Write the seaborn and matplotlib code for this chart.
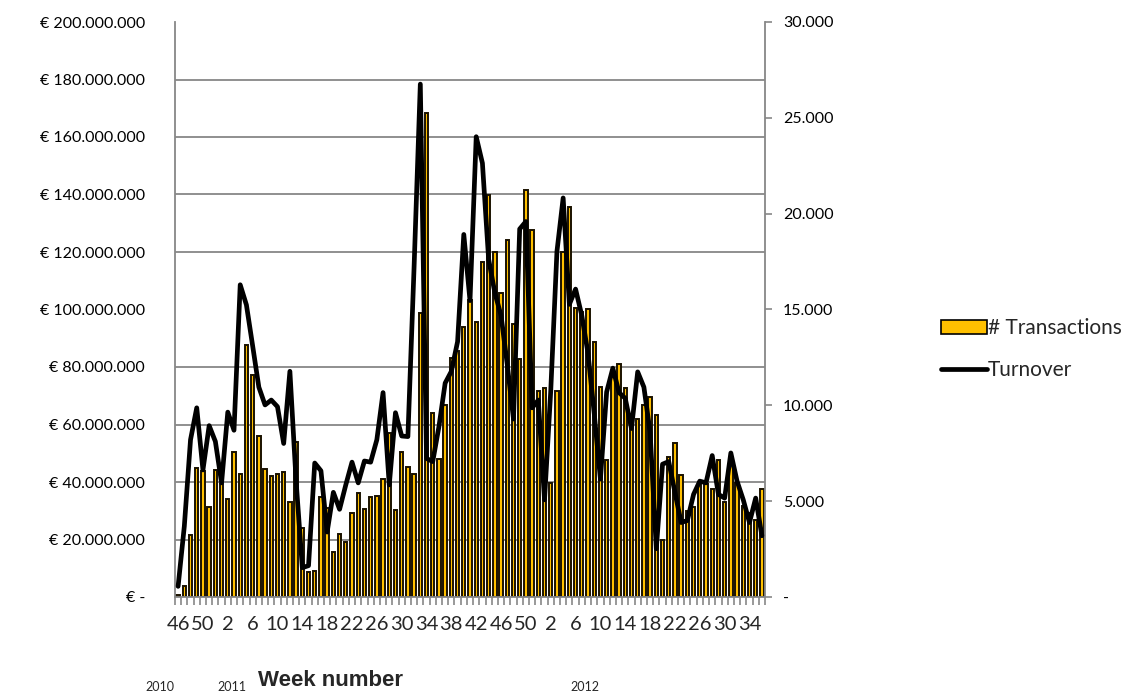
import numpy as np
import pandas as pd
import matplotlib
matplotlib.use("Agg")
import matplotlib.pyplot as plt
import seaborn as sns
from matplotlib.ticker import MultipleLocator, FuncFormatter
from matplotlib.lines import Line2D
from matplotlib.patches import Patch

# weeks 46/2010 .. 36/2012
years = [2010] * 7 + [2011] * 52 + [2012] * 36
weeks = list(range(46, 53)) + list(range(1, 53)) + list(range(1, 37))

transactions = [
    100, 600, 3250, 6730, 6550, 4700, 6630, 5900, 5100, 7570,
    6410, 13130, 11600, 8420, 6680, 6320, 6430, 6530, 4980, 8100,
    3620, 1320, 1370, 5240, 4650, 2350, 3300, 2880, 4400, 5450,
    4600, 5240, 5280, 6180, 8580, 4560, 7570, 6780, 6430, 14840,
    25240, 9610, 7200, 10000, 12460, 12820, 14100, 15470, 14370, 17500,
    20960, 18020, 15860, 18610, 14250, 12430, 21240, 19160, 10760, 10890,
    5950, 10760, 17980, 20340, 15080, 14880, 15040, 13310, 10950, 7170,
    11540, 12170, 10910, 8800, 9300, 10000, 10420, 9490, 2990, 7290,
    8040, 6380, 4480, 4690, 5980, 5900, 5650, 7140, 4960, 7250,
    5930, 4730, 4400, 4000, 5650,
]

# turnover in million euro
turnover_m = [
    3.7, 24.6, 54.7, 65.8, 44.2, 59.6, 54.1, 39.7, 64.3, 58.0,
    108.6, 101.6, 87.4, 73.0, 66.8, 68.5, 66.2, 53.4, 78.5, 40.3,
    10.2, 10.9, 46.6, 43.9, 22.6, 36.4, 30.5, 39.0, 46.9, 39.7,
    47.3, 46.9, 54.7, 71.1, 39.0, 64.1, 56.0, 55.8, 115.0, 178.4,
    48.2, 47.1, 59.3, 74.4, 78.5, 88.8, 126.1, 103.1, 160.1, 150.9,
    117.5, 105.8, 97.9, 80.9, 61.9, 128.0, 130.6, 65.8, 68.5, 33.8,
    71.7, 120.2, 138.8, 101.8, 107.1, 97.9, 84.8, 63.9, 41.0, 71.3,
    79.6, 71.1, 69.1, 58.6, 78.3, 73.0, 57.3, 16.8, 46.2, 47.1,
    36.4, 25.9, 26.6, 35.7, 40.3, 39.7, 49.2, 35.7, 34.4, 50.1,
    40.3, 33.8, 25.9, 34.4, 21.3,
]

df = pd.DataFrame({
    "idx": range(len(weeks)),
    "year": years,
    "week": weeks,
    "transactions": transactions,
    "turnover": np.array(turnover_m) * 1e6,
})

sns.set_theme(style="white")
plt.rcParams["font.family"] = ["Lato", "DejaVu Sans"]

GREY = "#878787"
GOLD = "#FFC000"
W, H = 1131, 693

fig = plt.figure(figsize=(W / 100, H / 100), dpi=100)
ax = fig.add_axes([175 / W, 1 - 597 / H, 590 / W, 575 / H])

# bars: # transactions (right axis scale)
sns.barplot(data=df, x="idx", y="transactions", ax=ax, color=GOLD,
            saturation=1, width=0.55, edgecolor="#1a1200", linewidth=1.4)
ax.set_ylim(0, 30000)
ax.set_xlim(-0.5, len(df) - 0.5)

# line: turnover (left axis scale)
ax2 = ax.twinx()
sns.lineplot(data=df, x="idx", y="turnover", ax=ax2, color="black",
             linewidth=3.4)
ax2.set_ylim(0, 200e6)
ax2.set_xlim(-0.5, len(df) - 0.5)

# axis sides: euro on left, count on right
ax.yaxis.tick_right()
ax2.yaxis.tick_left()

ax.set_xlabel("")
ax.set_ylabel("")
ax2.set_ylabel("")

# gridlines at every 20M (= 3000 transactions)
ax.yaxis.set_major_locator(MultipleLocator(5000))
ax.yaxis.set_minor_locator(MultipleLocator(3000))
ax.grid(which="minor", axis="y", color=GREY, linewidth=1.3)
ax.set_axisbelow(True)

ax.yaxis.set_major_formatter(FuncFormatter(
    lambda v, p: "-" if v == 0 else f"{v:,.0f}".replace(",", ".")))
ax.tick_params(axis="y", which="major", right=True, length=5, width=1.2,
               color=GREY, labelsize=11.5, pad=8, labelcolor="black")
ax.tick_params(axis="y", which="minor", length=0)

ax2.yaxis.set_major_locator(MultipleLocator(20e6))
ax2.yaxis.set_major_formatter(FuncFormatter(
    lambda v, p: "€ -" if v == 0 else "€ " + f"{v:,.0f}".replace(",", ".")))
ax2.tick_params(axis="y", left=True, length=0, labelsize=11.5, pad=21.5,
                labelcolor="black")

# x axis: label every 4th week, tick marks between categories
ax.set_xticks(range(0, len(df), 4))
ax.set_xticklabels([str(w) for w in df["week"][::4]])
ax.set_xticks(np.arange(-0.5, len(df), 1), minor=True)
ax.tick_params(axis="x", which="major", length=0, labelsize=14.5, pad=14)
ax.tick_params(axis="x", which="minor", bottom=True, length=6, width=1.2,
               color=GREY)

for s in ["left", "right", "bottom"]:
    ax.spines[s].set_color(GREY)
    ax.spines[s].set_linewidth(1.3)
ax.spines["top"].set_visible(False)
for s in ax2.spines.values():
    s.set_visible(False)

# legend
handles = [
    Patch(facecolor=GOLD, edgecolor="black", linewidth=1.2, label="# Transactions"),
    Line2D([0], [0], color="black", linewidth=3.4, label="Turnover"),
]
fig.legend(handles=handles, loc="center left",
           bbox_to_anchor=(922 / W, 1 - 349 / H), frameon=False,
           fontsize=15, handlelength=2.2, handleheight=0.65,
           handletextpad=0.05, labelspacing=1.05)

# category group labels and axis title
fig.text(160 / W, 1 - 687 / H, "2010", fontsize=9, ha="center", va="center")
fig.text(232 / W, 1 - 687 / H, "2011", fontsize=9, ha="center", va="center")
fig.text(330 / W, 1 - 680 / H, "Week number", fontsize=16, fontweight="bold",
         ha="center", va="center", family=["Liberation Sans", "DejaVu Sans"])
fig.text(585 / W, 1 - 687 / H, "2012", fontsize=9, ha="center", va="center")

fig.savefig("out.png", dpi=100)
